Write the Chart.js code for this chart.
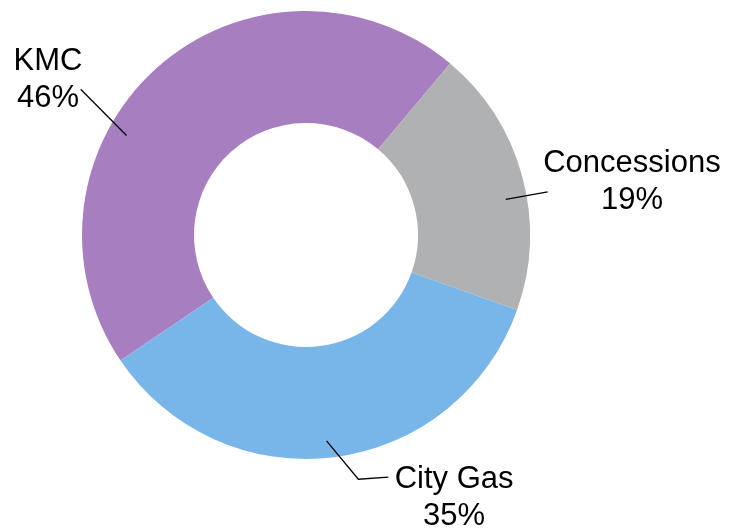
<!DOCTYPE html>
<html>
<head>
<meta charset="utf-8">
<script src="https://cdn.jsdelivr.net/npm/chart.js@4/dist/chart.umd.min.js"></script>
<style>
  html, body { margin: 0; padding: 0; background: #ffffff; }
  #wrap { width: 729px; height: 528px; }
</style>
</head>
<body>
<div id="wrap"><canvas id="c" width="729" height="528"></canvas></div>
<script>
// ---- data ----
const categories = ['KMC', 'Concessions', 'City Gas'];
const shares = [45.6, 19.3, 35.1];
const sliceColors = ['#A77FC0', '#B0B1B3', '#78B6EA'];

// ---- label layout (polar in degrees clockwise from north, radius in units of outer radius) ----
const labelLayout = [
  { leader: [[299.0, 0.916], [302.9, 1.198]], tail: 0,  text: [-1.152, -0.737] },
  { leader: [[79.9, 0.906], [79.9, 1.096]],  tail: 0,  text: [1.455, -0.281] },
  { leader: [[174.3, 0.924], [167.9, 1.115]], tail: 30, text: [0.661, 1.129] }
];

const labelPlugin = {
  id: 'calloutLabels',
  afterDatasetsDraw(chart) {
    const ctx = chart.ctx;
    const meta = chart.getDatasetMeta(0);
    const data = chart.data.datasets[0].data;
    const total = data.reduce((a, b) => a + b, 0);
    ctx.save();
    ctx.font = '31px "Liberation Sans", Arial, sans-serif';
    ctx.fillStyle = '#000000';
    ctx.strokeStyle = '#000000';
    ctx.lineWidth = 1.3;
    ctx.textAlign = 'center';
    ctx.textBaseline = 'alphabetic';
    meta.data.forEach((arc, i) => {
      const p = arc.getProps(['x', 'y', 'outerRadius'], true);
      const R = p.outerRadius;
      const pt = ([deg, r]) => {
        const a = deg * Math.PI / 180;
        return [p.x + r * R * Math.sin(a), p.y - r * R * Math.cos(a)];
      };
      const lay = labelLayout[i];
      const pts = lay.leader.map(pt);
      if (lay.tail) pts.push([pts[pts.length - 1][0] + lay.tail, pts[pts.length - 1][1] - 2]);
      ctx.beginPath();
      ctx.moveTo(pts[0][0], pts[0][1]);
      for (let k = 1; k < pts.length; k++) ctx.lineTo(pts[k][0], pts[k][1]);
      ctx.stroke();
      const tx = p.x + lay.text[0] * R;
      const ty = p.y + lay.text[1] * R;
      ctx.fillText(chart.data.labels[i], tx, ty);
      ctx.fillText(Math.round(data[i] / total * 100) + '%', tx, ty + 37);
    });
    ctx.restore();
  }
};

new Chart(document.getElementById('c'), {
  type: 'doughnut',
  data: {
    labels: categories,
    datasets: [{
      data: shares,
      backgroundColor: sliceColors,
      borderWidth: 0,
      hoverOffset: 0
    }]
  },
  options: {
    responsive: false,
    animation: false,
    rotation: -124.1,
    cutout: '50%',
    layout: { padding: { left: 82, right: 199, top: 11, bottom: 69 } },
    plugins: {
      legend: { display: false },
      tooltip: { enabled: false }
    }
  },
  plugins: [labelPlugin]
});
</script>
</body>
</html>
